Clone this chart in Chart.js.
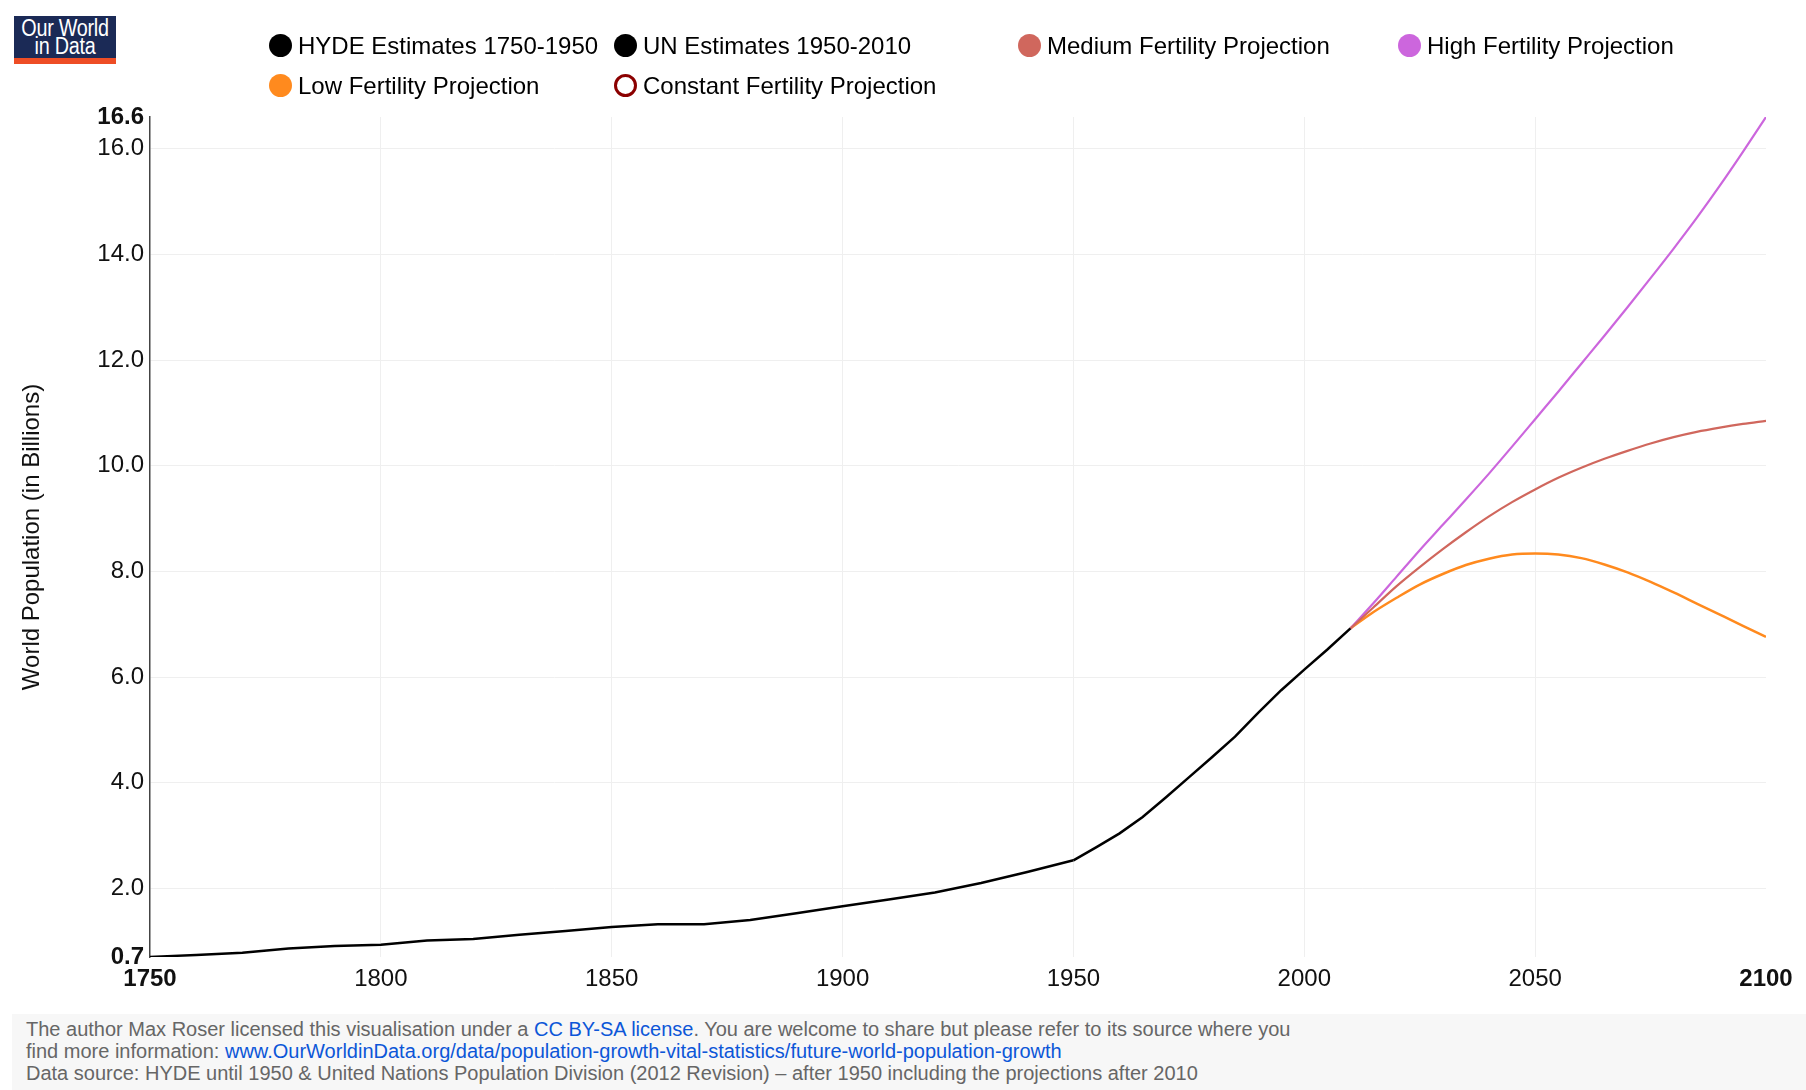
<!DOCTYPE html>
<html>
<head>
<meta charset="utf-8">
<script src="https://cdn.jsdelivr.net/npm/chart.js@4.4.0/dist/chart.umd.min.js"></script>
<style>
  html, body { margin: 0; padding: 0; background: #fff; }
  body { width: 1806px; height: 1090px; position: relative; overflow: hidden; font-family: "Liberation Sans", Arial, sans-serif; }
  #wrap { position: absolute; left: 0; top: 0; width: 1806px; height: 1012px; }
  #logo { position: absolute; left: 14px; top: 16px; width: 102px; height: 42px; background: #1b2a56; border-bottom: 6px solid #ee4d25; overflow: hidden; }
  #logo div { position: absolute; left: 0; width: 102px; text-align: center; color: #fff; font-size: 23px; line-height: 20px; transform: scaleX(0.86); transform-origin: 50% 50%; letter-spacing: -0.3px; }
  .leg { position: absolute; font-size: 24px; color: #000; white-space: nowrap; line-height: 28px; }
  .leg .dot { position: absolute; left: -12px; top: 2px; width: 23px; height: 23px; border-radius: 50%; box-sizing: border-box; }
  .leg span.t { position: absolute; left: 17px; top: 0; }
  #footer { position: absolute; left: 12px; right: 0; top: 1014px; bottom: 0; background: #f7f7f7; color: #666; font-size: 20px; line-height: 22px; padding: 4px 0 0 14px; white-space: nowrap; }
  #footer a { color: #0c56d8; text-decoration: none; }
</style>
</head>
<body>
<div id="wrap"><canvas id="chart" width="1806" height="1012"></canvas></div>
<div id="logo"><div style="top:2px">Our World</div><div style="top:20px">in Data</div></div>
<div id="legend"></div>
<div id="footer">The author Max Roser licensed this visualisation under a <a>CC BY-SA license</a>. You are welcome to share but please refer to its source where you<br>find more information: <a>www.OurWorldinData.org/data/population-growth-vital-statistics/future-world-population-growth</a><br>Data source: HYDE until 1950 &amp; United Nations Population Division (2012 Revision) – after 1950 including the projections after 2010</div>
<script>
// 데이터 (단위: 십억명)
const hydeYears = [1750, 1760, 1770, 1780, 1790, 1800, 1810, 1820, 1830, 1840, 1850, 1860, 1870, 1880, 1890, 1900, 1910, 1920, 1930, 1940, 1950];
const hydeValues = [0.70, 0.74, 0.78, 0.86, 0.91, 0.93, 1.01, 1.04, 1.12, 1.19, 1.27, 1.32, 1.32, 1.40, 1.53, 1.66, 1.79, 1.92, 2.10, 2.31, 2.53];

const unYears = [1950, 1955, 1960, 1965, 1970, 1975, 1980, 1985, 1990, 1995, 2000, 2005, 2010];
const unValues = [2.53, 2.78, 3.04, 3.35, 3.72, 4.10, 4.48, 4.87, 5.32, 5.75, 6.14, 6.52, 6.92];

const projYears = [2010, 2015, 2020, 2025, 2030, 2035, 2040, 2045, 2050, 2055, 2060, 2065, 2070, 2075, 2080, 2085, 2090, 2095, 2100];
const mediumValues = [6.92, 7.32, 7.72, 8.08, 8.42, 8.74, 9.04, 9.31, 9.55, 9.77, 9.96, 10.13, 10.28, 10.42, 10.54, 10.64, 10.72, 10.79, 10.85];
const highValues = [6.92, 7.40, 7.90, 8.40, 8.88, 9.36, 9.85, 10.36, 10.88, 11.40, 11.93, 12.46, 13.00, 13.55, 14.11, 14.69, 15.30, 15.94, 16.60];
const lowValues = [6.92, 7.23, 7.50, 7.75, 7.95, 8.12, 8.24, 8.32, 8.34, 8.32, 8.25, 8.13, 7.98, 7.80, 7.60, 7.39, 7.18, 6.97, 6.76];

const xTicks = [1750, 1800, 1850, 1900, 1950, 2000, 2050, 2100];
const yTicks = [0.7, 2, 4, 6, 8, 10, 12, 14, 16, 16.6];

function pts(xs, ys) {
    return xs.map((x, i) => ({ x: x, y: ys[i] }));
}

Chart.defaults.font.family = '"Liberation Sans", Arial, sans-serif';
Chart.defaults.color = '#111';

const chart = new Chart(document.getElementById('chart').getContext('2d'), {
    type: 'line',
    data: {
        datasets: [{
            label: 'HYDE Estimates 1750-1950',
            data: pts(hydeYears, hydeValues),
            borderColor: '#000000',
            backgroundColor: '#000000',
            borderWidth: 2.5,
            tension: 0
        }, {
            label: 'UN Estimates 1950-2010',
            data: pts(unYears, unValues),
            borderColor: '#000000',
            backgroundColor: '#000000',
            borderWidth: 2.5,
            tension: 0
        }, {
            label: 'Medium Fertility Projection',
            data: pts(projYears, mediumValues),
            borderColor: '#d0675d',
            backgroundColor: '#d0675d',
            borderWidth: 2.2,
            cubicInterpolationMode: 'monotone'
        }, {
            label: 'High Fertility Projection',
            data: pts(projYears, highValues),
            borderColor: '#cc66dd',
            backgroundColor: '#cc66dd',
            borderWidth: 2.2,
            cubicInterpolationMode: 'monotone'
        }, {
            label: 'Low Fertility Projection',
            data: pts(projYears, lowValues),
            borderColor: '#ff8a1e',
            backgroundColor: '#ff8a1e',
            borderWidth: 2.5,
            cubicInterpolationMode: 'monotone'
        }, {
            label: 'Constant Fertility Projection',
            data: [],
            borderColor: '#8b0000',
            backgroundColor: '#8b0000',
            hidden: true
        }]
    },
    options: {
        responsive: false,
        animation: false,
        events: [],
        elements: { point: { radius: 0 } },
        layout: { padding: { top: 117, right: 40, bottom: 0, left: 0 } },
        plugins: { legend: { display: false }, tooltip: { enabled: false } },
        scales: {
            x: {
                type: 'linear',
                min: xTicks[0],
                max: xTicks[xTicks.length - 1],
                afterFit: (s) => { s.height = 55; },
                afterBuildTicks: (s) => { s.ticks = xTicks.map(v => ({ value: v })); },
                border: { display: false },
                grid: {
                    drawTicks: false,
                    lineWidth: 1,
                    color: (c) => (c.index === 0 || c.index === xTicks.length - 1) ? 'rgba(0,0,0,0)' : '#efefef'
                },
                ticks: {
                    padding: 8,
                    maxRotation: 0,
                    color: '#111',
                    callback: (v) => String(v),
                    font: (c) => ({ size: 24, weight: (c.index === 0 || c.index === xTicks.length - 1) ? 'bold' : 'normal' })
                }
            },
            y: {
                min: yTicks[0],
                max: yTicks[yTicks.length - 1],
                afterFit: (s) => { s.width = 150; },
                afterBuildTicks: (s) => { s.ticks = yTicks.map(v => ({ value: v })); },
                border: { display: true, color: '#444', width: 1.5 },
                grid: {
                    drawTicks: false,
                    lineWidth: 1,
                    color: (c) => (c.index === 0 || c.index === yTicks.length - 1) ? 'rgba(0,0,0,0)' : '#efefef'
                },
                title: {
                    display: true,
                    text: 'World Population (in Billions)',
                    color: '#111',
                    font: { size: 24 },
                    padding: { top: 18, bottom: 0 }
                },
                ticks: {
                    padding: 6,
                    color: '#111',
                    callback: (v) => Number(v).toFixed(1),
                    font: (c) => ({ size: 24, weight: (c.index === 0 || c.index === yTicks.length - 1) ? 'bold' : 'normal' })
                }
            }
        }
    }
});

// 범례 (HTML)
const legendSlots = [[281, 32], [626, 32], [1030, 32], [1410, 32], [281, 72], [626, 72]];
const legendBox = document.getElementById('legend');
chart.data.datasets.forEach((ds, i) => {
    const item = document.createElement('div');
    item.className = 'leg';
    item.style.left = legendSlots[i][0] + 'px';
    item.style.top = legendSlots[i][1] + 'px';
    const dot = document.createElement('div');
    dot.className = 'dot';
    if (ds.hidden) {
        dot.style.border = '3px solid ' + ds.borderColor;
        dot.style.background = '#fff';
    } else {
        dot.style.background = ds.backgroundColor;
    }
    const t = document.createElement('span');
    t.className = 't';
    t.textContent = ds.label;
    item.appendChild(dot);
    item.appendChild(t);
    legendBox.appendChild(item);
});
</script>
</body>
</html>
